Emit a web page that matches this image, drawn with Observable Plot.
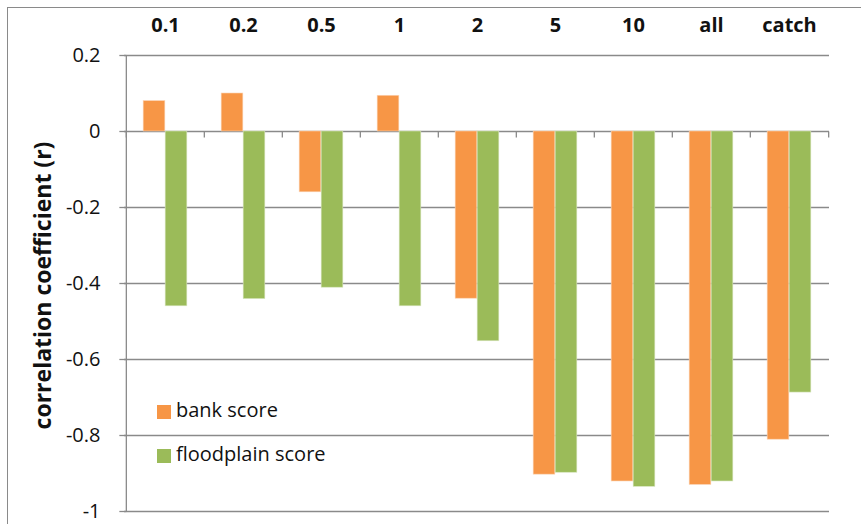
<!DOCTYPE html>
<html>
<head>
<meta charset="utf-8">
<script src="https://cdn.jsdelivr.net/npm/d3@7"></script>
<script src="https://cdn.jsdelivr.net/npm/@observablehq/plot@0.6"></script>
<style>
  html, body { margin: 0; padding: 0; background: #fff; overflow: hidden; }
  #wrap { position: relative; width: 861px; height: 524px; }
  #frame { position: absolute; left: 7px; top: 7px; width: 900px; height: 600px;
           border-left: 1.3px solid #8a8a8a; border-top: 1.3px solid #8a8a8a; box-sizing: border-box; }
  #chart { position: absolute; left: 0; top: 0; }
  .legend { position: absolute; left: 157px; font-family: "Open Sans", Lato, sans-serif; font-size: 20px; color: #111; }
  .legend .sw { position: absolute; left: 0; width: 14px; height: 14px; }
  .legend .lb { position: absolute; left: 19px; white-space: nowrap; line-height: 20px; }
</style>
</head>
<body>
<div id="wrap">
  <div id="frame"></div>
  <div id="chart"></div>
  <div id="legend"></div>
</div>
<script>
const categories = ["0.1", "0.2", "0.5", "1", "2", "5", "10", "all", "catch"];
const bankScore = [0.08, 0.10, -0.16, 0.094, -0.44, -0.903, -0.921, -0.930, -0.811];
const floodplainScore = [-0.46, -0.441, -0.411, -0.46, -0.552, -0.898, -0.935, -0.921, -0.687];
const yTicks = [0.2, 0, -0.2, -0.4, -0.6, -0.8, -1];
const seriesNames = ["bank score", "floodplain score"];
const seriesColors = ["#F79646", "#9BBB59"];

const W = 861, H = 524, mL = 124, mR = 32, mT = 55, mB = 13;
const band = (W - mL - mR) / categories.length;
const barW = 22;
const outer = (band - 2 * barW) / 2;

const bank = categories.map((c, i) => ({cat: c, v: bankScore[i]}));
const flood = categories.map((c, i) => ({cat: c, v: floodplainScore[i]}));

const downTick = { draw(ctx) { ctx.moveTo(0, 0); ctx.lineTo(0, 6); } };
const leftTick = { draw(ctx) { ctx.moveTo(-7, 0); ctx.lineTo(0, 0); } };

const gridColor = "#8a8a8a";
const font = "'Open Sans', Lato, sans-serif";

const plot = Plot.plot({
  width: W, height: H,
  marginLeft: mL, marginRight: mR, marginTop: mT, marginBottom: mB,
  style: { fontFamily: font, background: "transparent", overflow: "visible" },
  x: { type: "band", domain: categories, padding: 0, axis: null },
  y: { domain: [-1, 0.2], axis: null },
  marks: [
    Plot.ruleY(yTicks, { stroke: gridColor, strokeWidth: 1.3 }),
    Plot.ruleX([categories[0]], { x: d => d, dx: -band / 2, stroke: gridColor, strokeWidth: 1.3 }),
    Plot.dot(yTicks, { x: () => categories[0], y: d => d, dx: -band / 2, symbol: leftTick, stroke: gridColor, strokeWidth: 1.3, fill: "none" }),
    Plot.barY(bank, { x: "cat", y: "v", fill: seriesColors[0], insetLeft: outer, insetRight: outer + barW, stroke: "#fbd3b3", strokeWidth: 0.6 }),
    Plot.barY(flood, { x: "cat", y: "v", fill: seriesColors[1], insetLeft: outer + barW, insetRight: outer, stroke: "#d6e4bd", strokeWidth: 0.6 }),
    Plot.dot(categories, { x: d => d, y: () => 0, dx: -band / 2, symbol: downTick, stroke: gridColor, strokeWidth: 1.3, fill: "none" }),
    Plot.dot([categories[categories.length - 1]], { x: d => d, y: () => 0, dx: band / 2, symbol: downTick, stroke: gridColor, strokeWidth: 1.3, fill: "none" }),
    Plot.text(categories, { x: d => d, frameAnchor: "top", dy: -30, lineAnchor: "middle", fontWeight: "bold", fontSize: 20, fill: "#111" }),
    Plot.text(yTicks, { y: d => d, frameAnchor: "left", dx: -24, textAnchor: "end", lineAnchor: "middle", fontSize: 20, fill: "#111",
      text: d => String(+d.toFixed(1)) }),
    Plot.text(["correlation coefficient (r)"], { frameAnchor: "left", dx: -81, dy: 2, rotate: -90, textAnchor: "middle", lineAnchor: "middle", fontWeight: "bold", fontSize: 23, fill: "#111" })
  ]
});
document.getElementById("chart").appendChild(plot);

// legend (inside plot area, lower left)
const legend = document.getElementById("legend");
const legendTops = [400, 444];
seriesNames.forEach((name, i) => {
  const row = document.createElement("div");
  row.className = "legend";
  row.style.top = legendTops[i] + "px";
  row.innerHTML = `<div class="sw" style="top:5px;background:${seriesColors[i]}"></div><div class="lb" style="top:0">${name}</div>`;
  legend.appendChild(row);
});
</script>
</body>
</html>
